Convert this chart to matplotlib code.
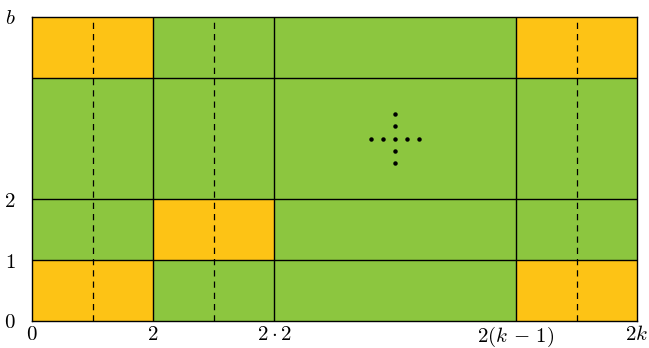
import matplotlib
matplotlib.use("Agg")
import matplotlib.pyplot as plt
from matplotlib.patches import Rectangle

plt.rcParams['mathtext.fontset'] = 'cm'
plt.rcParams['font.family'] = ['DejaVu Serif']

# grid geometry (data units)
x_max = 10
y_max = 5
solid_x = [2, 4, 8]
solid_y = [1, 2, 4]
dashed_x = [1, 3, 9]
# highlighted (orange) cells: (x0, y0, width, height)
orange_cells = [(0, 0, 2, 1), (0, 4, 2, 1), (2, 1, 2, 1), (8, 0, 2, 1), (8, 4, 2, 1)]
# ellipsis dots
dots_h_x = [5.6, 5.8, 6.0, 6.2, 6.4]
dots_h_y = [3.0] * 5
dots_v_x = [6.0] * 4
dots_v_y = [3.4, 3.2, 2.8, 2.6]
# tick labels
xtick_pos = [0, 2, 4, 8, 10]
xtick_labels = [r'$0$', r'$2$', r'$2\cdot 2$', r'$2(k\,-\,1)$', r'$2k$']
ytick_pos = [0, 1, 2, 5]
ytick_labels = [r'$0$', r'$1$', r'$2$', r'$b$']

green = '#8CC63F'
orange = '#FDC315'

fig = plt.figure(figsize=(6.49, 3.48), dpi=100)
ax = fig.add_axes([32/649, 27/348, 605/649, 304/348])
ax.set_xlim(0, x_max)
ax.set_ylim(0, y_max)
ax.set_facecolor(green)

for (x0, y0, w, h) in orange_cells:
    ax.add_patch(Rectangle((x0, y0), w, h, facecolor=orange, edgecolor='none', zorder=1))

for x in solid_x:
    ax.axvline(x, color='black', lw=1.0, zorder=3)
for y in solid_y:
    ax.axhline(y, color='black', lw=1.0, zorder=3)
for x in dashed_x:
    ax.axvline(x, color='black', lw=0.9, ls=(0, (5, 4)), zorder=2)

ax.plot(dots_h_x, dots_h_y, 'o', color='black', ms=2.2, zorder=4)
ax.plot(dots_v_x, dots_v_y, 'o', color='black', ms=2.2, zorder=4)

for s in ax.spines.values():
    s.set_linewidth(1.0)
    s.set_zorder(5)

ax.set_xticks(xtick_pos)
ax.set_xticklabels(xtick_labels, fontsize=15)
ax.set_yticks(ytick_pos)
ax.set_yticklabels(ytick_labels, fontsize=15)
ax.tick_params(length=0, pad=3)
ax.tick_params(axis='y', pad=12)

fig.savefig('out.png', dpi=100)
